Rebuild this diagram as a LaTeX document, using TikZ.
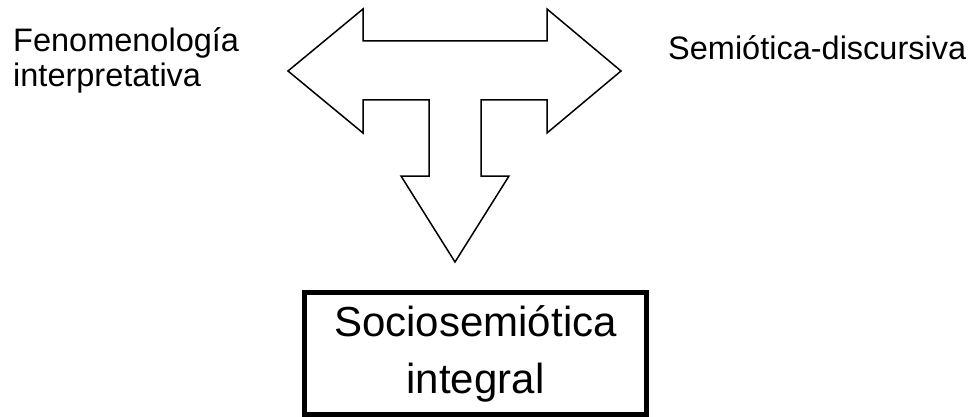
\documentclass[tikz,border=0pt]{standalone}
\usepackage{fontspec}
\setmainfont{Liberation Sans}
\usepackage{tikz}
\usetikzlibrary{positioning}
\tikzset{%
  side label/.style={
    inner sep=0pt,
    align=left,
    font=\fontsize{32.5}{35}\selectfont
  },
  theory box/.style={
    draw,
    line width=5pt,
    minimum width=342pt,
    minimum height=122pt,
    align=center,
    font=\fontsize{42}{57}\selectfont
  },
}

\begin{document}
\begin{tikzpicture}[x=1pt,y=-1pt]
  \tikzstyle{outline} = [draw, line width=1.5pt, line join=miter]
  \useasboundingbox (0,0) rectangle (974,417);

  % Three-way arrow
  \draw[outline] (288,71) -- (363,9) -- (363,41) -- (547,41) -- (547,9)
    -- (621,71) -- (547,133) -- (547,100) -- (481,100) -- (481,176)
    -- (509,176) -- (455,262) -- (401,176) -- (429,176) -- (429,100)
    -- (363,100) -- (363,133) -- cycle;

  % Left label (base is the last line)
  \node[side label, anchor=base west] (fenomenologia) at (13,87) {Fenomenología\\interpretativa};

  % Right label
  \node[side label, anchor=base west] (semiotica) at (668,60) {Semiótica-discursiva};

  % Box
  \node[theory box] (sociosemiotica) at (475.5,353.5) {Sociosemiótica\\integral};
\end{tikzpicture}
\end{document}
